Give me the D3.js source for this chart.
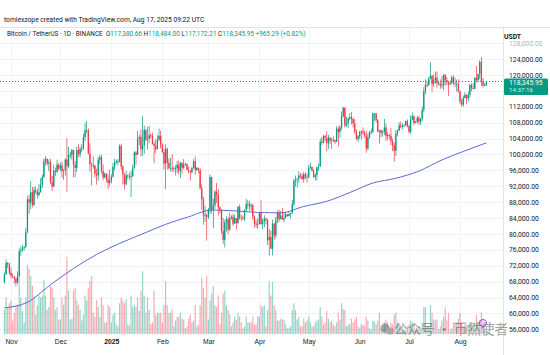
<!DOCTYPE html>
<html><head><meta charset="utf-8">
<script src="https://cdn.jsdelivr.net/npm/d3@7"></script>
<style>html,body{margin:0;padding:0;background:#fff;}svg{display:block;font-family:Roboto,"Noto Sans",sans-serif;}</style>
</head><body>
<script>
// Daily candles [open, high, low, close] in thousand USDT, volume in thousand BTC
const oct24 = [[67.9,70.3,67.5,69.9,25],[69.9,73.6,69.7,72.7,38],[72.7,72.9,71.4,72.3,28],[72.3,72.7,69.7,70.2,32]];
const nov24 = [[70.2,71.6,68.8,69.5,35],[69.5,70.0,69.0,69.3,14],[69.3,69.4,67.5,68.7,22],[68.7,69.0,66.8,67.8,30],[67.8,70.6,67.4,69.4,30],
[69.4,76.4,69.3,75.6,62],[75.6,76.9,74.5,75.9,38],[75.9,77.2,75.6,76.5,24],[76.5,76.9,75.8,76.7,12],[76.7,81.5,76.5,80.4,38],
[80.4,89.5,80.2,88.7,72],[88.7,89.9,85.1,87.9,68],[87.9,93.3,86.2,90.5,60],[90.5,91.8,86.7,87.3,50],[87.3,91.8,87.1,91.0,40],
[91.0,91.9,90.1,90.6,20],[90.6,91.4,88.8,89.8,30],[89.8,92.6,89.4,90.5,40],[90.5,94.0,90.4,92.3,38],[92.3,94.9,91.5,94.3,40],
[94.3,99.0,94.1,98.3,56],[98.3,99.6,97.2,98.9,40],[98.9,98.9,97.2,97.7,25],[97.7,98.7,95.8,98.0,28],[98.0,98.9,92.6,93.0,50],
[93.0,94.6,90.8,91.9,48],[91.9,97.4,91.8,95.9,38],[95.9,96.7,94.6,95.6,25],[95.6,98.7,95.4,97.4,28],[97.4,97.8,96.0,96.4,15]];
const dec24 = [[96.4,98.0,95.7,97.2,15],[97.2,98.2,94.2,95.8,38],[95.8,96.3,93.6,96.0,30],[96.0,99.0,94.7,98.7,40],[98.7,104.1,90.5,97.0,80],
[97.0,101.9,96.5,99.9,45],[99.9,100.6,99.0,99.9,15],[99.9,101.4,98.7,101.1,16],[101.1,101.2,94.2,97.4,45],[97.4,98.3,94.3,96.6,48],
[96.6,101.9,95.6,101.1,35],[101.1,102.5,99.3,100.0,30],[100.0,101.9,99.2,101.4,25],[101.4,102.6,100.6,101.4,14],[101.4,105.2,101.2,104.3,20],
[104.3,107.8,103.3,106.0,40],[106.0,108.4,105.3,106.1,35],[106.1,106.5,100.0,100.2,48],[100.2,102.8,95.7,97.5,55],[97.5,98.0,92.2,97.2,60],
[97.2,99.5,96.4,97.2,22],[97.2,97.4,94.2,95.1,18],[95.1,96.4,92.4,94.7,35],[94.7,99.4,93.4,98.7,28],[98.7,99.9,97.6,99.3,18],
[99.3,99.9,95.1,95.8,38],[95.8,97.5,93.5,94.2,30],[94.2,95.5,94.1,95.1,12],[95.1,95.3,93.0,93.7,12],[93.7,95.0,91.3,92.8,30],[92.8,96.2,92.0,93.4,28]];
const jan25 = [[93.4,95.0,92.7,94.4,12],[94.4,97.8,94.2,96.9,20],[96.9,98.9,96.0,98.1,22],[98.1,98.7,97.5,98.2,10],[98.2,98.8,97.3,98.3,8],
[98.3,102.5,97.9,102.2,32],[102.2,102.7,96.1,96.9,38],[96.9,97.3,92.5,95.0,35],[95.0,95.3,91.2,92.5,32],[92.5,95.8,92.2,94.7,36],
[94.7,95.0,93.8,94.5,10],[94.5,95.4,93.7,94.5,9],[94.5,95.9,89.3,94.5,40],[94.5,97.4,94.3,96.5,28],[96.5,100.7,96.5,100.5,30],
[100.5,100.9,97.4,99.9,28],[99.9,105.9,99.9,104.1,38],[104.1,104.9,102.3,104.4,24],[104.4,106.3,99.5,101.3,45],[101.3,109.6,99.6,102.3,65],
[102.3,107.2,100.1,106.1,40],[106.1,106.4,103.3,103.7,22],[103.7,106.9,101.2,103.9,38],[103.9,107.1,102.8,104.8,25],[104.8,105.3,104.1,104.7,10],
[104.7,105.5,102.5,102.6,12],[102.6,103.2,97.8,102.1,45],[102.1,103.8,100.3,101.3,20],[101.3,104.8,101.3,103.7,22],[103.7,106.5,103.3,104.7,22],[104.7,106.0,101.5,102.4,22]];
const feb25 = [[102.4,102.8,100.3,100.6,12],[100.6,101.5,96.2,97.7,30],[97.7,102.5,91.2,101.4,55],[101.4,101.7,96.2,97.9,30],[97.9,99.0,96.2,96.6,22],
[96.6,99.2,95.7,96.6,22],[96.6,100.1,95.6,96.5,25],[96.5,96.9,95.7,96.5,8],[96.5,97.3,94.7,96.5,14],[96.5,98.3,95.3,97.4,18],
[97.4,98.5,94.9,95.8,18],[95.8,98.1,94.1,97.9,22],[97.9,97.9,95.2,96.6,16],[96.6,98.8,96.3,97.5,15],[97.5,97.9,97.2,97.6,6],
[97.6,97.7,96.0,96.1,8],[96.1,97.0,95.2,95.8,16],[95.8,96.0,93.4,95.5,20],[95.5,96.9,95.2,96.6,12],[96.6,98.8,96.4,98.3,14],
[98.3,99.5,94.9,96.1,30],[96.1,96.9,95.8,96.6,8],[96.6,96.7,95.2,96.1,10],[96.1,96.5,91.2,91.5,30],[91.5,92.5,86.1,88.7,58],
[88.7,89.3,82.3,84.7,48],[84.7,87.1,83.0,84.7,38],[84.7,85.1,78.3,84.3,60]];
const mar25 = [[84.3,86.5,83.8,86.1,15],[86.1,95.0,85.0,94.3,35],[94.3,94.4,85.1,86.1,42],[86.1,88.9,81.4,87.2,50],[87.2,91.0,86.3,90.6,30],
[90.6,92.8,87.8,89.9,28],[89.9,91.3,84.7,86.7,40],[86.7,86.9,85.2,86.1,10],[86.1,86.1,80.0,80.7,22],[80.7,84.0,77.5,78.5,42],
[78.5,83.6,76.6,82.9,45],[82.9,84.4,80.6,83.7,30],[83.7,84.3,79.9,81.1,25],[81.1,85.3,80.8,84.0,20],[84.0,84.7,83.6,84.3,8],
[84.3,85.0,82.0,82.6,12],[82.6,84.8,82.5,84.0,18],[84.0,84.0,81.1,82.7,15],[82.7,87.0,82.6,86.8,22],[86.8,87.4,83.6,84.1,18],
[84.1,84.8,83.2,84.0,12],[84.0,84.5,83.6,83.8,6],[83.8,86.1,83.2,86.1,8],[86.1,88.8,85.5,87.5,18],[87.5,88.5,86.3,87.5,12],
[87.5,88.3,85.9,86.9,12],[86.9,87.8,85.8,87.2,12],[87.2,87.5,83.6,84.4,18],[84.4,84.6,81.6,82.6,10],[82.6,83.5,81.5,82.3,10],[82.3,83.9,81.3,82.5,18]];
const apr25 = [[82.5,85.5,82.4,85.2,18],[85.2,88.5,82.3,82.5,30],[82.5,83.9,81.2,83.1,28],[83.1,84.7,81.7,83.8,30],[83.8,84.2,82.4,83.5,8],
[83.5,83.8,77.2,78.4,25],[78.4,81.2,74.5,79.2,55],[79.2,80.8,76.2,76.3,40],[76.3,83.6,74.6,82.6,54],[82.6,82.7,78.5,79.6,30],
[79.6,84.3,78.9,83.4,25],[83.4,85.9,82.7,85.3,14],[85.3,86.1,83.0,83.7,14],[83.7,85.8,83.7,84.6,16],[84.6,86.5,83.6,83.6,15],
[83.6,85.5,83.0,84.0,15],[84.0,85.5,83.9,84.9,10],[84.9,85.1,84.3,84.5,6],[84.5,85.6,84.4,85.0,6],[85.0,85.3,83.9,85.2,8],
[85.2,88.5,85.1,87.5,25],[87.5,93.9,87.0,93.4,32],[93.4,94.7,91.9,93.7,25],[93.7,94.0,91.7,93.9,15],[93.9,95.8,92.9,94.7,18],
[94.7,95.3,93.9,94.6,8],[94.6,95.2,93.6,93.8,8],[93.8,95.6,92.9,95.0,16],[95.0,95.5,93.8,94.3,12],[94.3,95.2,92.9,94.2,14]];
const may25 = [[94.2,97.4,94.1,96.5,18],[96.5,97.9,96.4,96.9,12],[96.9,96.9,95.7,95.9,8],[95.9,96.3,94.1,94.3,8],[94.3,95.2,93.5,94.8,12],
[94.8,96.9,93.4,96.8,14],[96.8,97.7,95.8,97.0,15],[97.0,104.0,96.9,103.2,28],[103.2,104.3,102.3,102.9,18],[102.9,104.9,102.8,104.6,10],
[104.6,104.9,103.3,104.1,12],[104.1,105.8,100.7,102.8,24],[102.8,104.9,101.4,104.2,16],[104.2,104.4,102.6,103.5,12],[103.5,104.2,101.4,103.7,14],
[103.7,104.6,103.1,103.6,10],[103.6,103.7,102.6,103.2,8],[103.2,107.1,103.1,106.5,12],[106.5,107.1,102.0,105.6,22],[105.6,107.3,104.2,106.8,15],
[106.8,110.8,106.1,109.6,32],[109.6,112.0,109.3,111.7,26],[111.7,111.9,106.8,107.3,25],[107.3,109.5,106.9,107.8,8],[107.8,109.3,106.6,109.0,10],
[109.0,110.4,108.6,109.4,10],[109.4,110.7,107.5,108.9,16],[108.9,109.3,106.8,107.8,12],[107.8,108.9,105.3,105.6,15],[105.6,106.3,103.6,103.9,18],[103.9,104.9,103.1,104.6,8]];
const jun25 = [[104.6,105.9,103.9,105.7,6],[105.7,105.9,103.7,105.8,10],[105.8,106.8,105.0,105.4,10],[105.4,106.0,104.2,104.7,8],[104.7,105.9,100.4,101.5,18],
[101.5,105.3,101.1,104.3,14],[104.3,105.9,103.9,105.6,6],[105.6,106.5,105.1,105.7,5],[105.7,110.5,105.4,110.3,14],[110.3,110.4,108.4,110.3,13],
[110.3,110.4,108.0,108.6,10],[108.6,108.9,105.7,105.7,14],[105.7,106.2,102.7,106.1,22],[106.1,106.2,104.3,105.4,6],[105.4,106.1,104.5,105.6,5],
[105.6,108.9,104.9,106.8,12],[106.8,107.8,103.4,104.6,15],[104.6,105.6,103.6,104.9,12],[104.9,105.2,103.9,104.7,6],[104.7,106.6,102.3,103.3,12],
[103.3,104.0,100.8,102.2,10],[102.2,103.0,98.2,100.9,20],[100.9,106.1,99.6,105.3,22],[105.3,106.3,104.6,106.0,12],[106.0,108.1,105.9,107.3,10],
[107.3,108.3,106.6,106.9,9],[106.9,107.8,106.3,107.1,9],[107.1,107.6,106.9,107.3,4],[107.3,108.5,107.2,108.4,4],[108.4,108.8,106.8,107.1,8]];
const jul25 = [[107.1,107.5,105.3,105.7,10],[105.7,109.8,105.2,108.8,14],[108.8,110.5,108.6,109.6,12],[109.6,109.8,107.3,107.9,10],[107.9,108.4,107.8,108.2,4],
[108.2,109.7,107.8,109.2,5],[109.2,109.7,107.5,108.2,8],[108.2,109.2,107.4,108.9,6],[108.9,112.0,108.3,111.2,12],[111.2,116.9,110.6,115.9,28],
[115.9,118.9,115.2,117.5,28],[117.5,118.2,116.9,117.4,8],[117.4,119.5,117.3,119.1,8],[119.1,123.2,118.9,119.8,30],[119.8,119.9,115.7,117.7,22],
[117.7,120.1,117.0,118.7,15],[118.7,120.9,117.8,119.3,14],[119.3,120.8,116.8,117.9,15],[117.9,118.5,117.3,117.9,5],[117.9,118.9,116.5,117.3,8],
[117.3,119.7,116.6,117.4,14],[117.4,120.2,116.1,120.0,18],[120.0,120.2,117.3,118.7,28],[118.7,119.5,117.4,118.3,14],[118.3,118.5,114.7,117.6,22],
[117.6,118.3,117.4,117.9,5],[117.9,119.8,117.8,119.4,6],[119.4,119.9,117.4,118.0,12],[118.0,119.3,116.9,117.8,12],[117.8,118.8,115.8,117.8,12],[117.8,118.9,115.5,115.8,16]];
const aug25 = [[115.8,116.1,112.7,113.3,22],[113.3,114.0,112.0,112.5,12],[112.5,114.8,112.0,114.2,8],[114.2,115.7,114.1,115.0,10],[115.0,115.1,112.7,114.1,10],
[114.1,115.8,113.4,115.0,10],[115.0,117.7,114.3,117.5,12],[117.5,117.9,115.9,116.7,10],[116.7,117.9,116.3,116.5,6],[116.5,119.3,116.5,119.3,12],
[119.3,122.3,118.1,118.7,20],[118.7,120.3,118.2,120.2,12],[120.2,123.7,118.9,123.3,14],[123.3,124.5,117.2,118.3,22],[118.3,119.2,116.8,117.4,14],
[117.4,117.9,117.2,117.4,5],[117.38066,118.484,117.17221,118.34595,3]];

// 200-day moving average, read every 14 days from the first candle (thousand USDT)
const maValues = [61.4,62.8,67.2,71.3,74.8,77.6,80.0,82.4,84.3,86.0,85.8,85.4,85.3,86.9,88.2,90.4,92.8,94.0,95.8,98.6,100.9,102.9];
const maStep = 14;

const priceTicks = d3.range(56000, 128001, 4000);
const monthTicks = [[2024,10],[2024,11],[2025,0],[2025,1],[2025,2],[2025,3],[2025,4],[2025,5],[2025,6],[2025,7]];
const startDate = Date.UTC(2024,9,28);
const lastPrice = 118345.95;

const rows = [].concat(oct24,nov24,dec24,jan25,feb25,mar25,apr25,may25,jun25,jul25,aug25);
const dates = d3.utcDay.range(new Date(startDate), new Date(Date.UTC(2025,7,18)));
const data = rows.map((r,i)=>({date:dates[i],o:r[0]*1000,h:r[1]*1000,l:r[2]*1000,c:r[3]*1000,v:r[4]}));

const W=550,H=355, plotR=503, plotT=28, plotB=334;
const svg=d3.select("body").append("svg").attr("width",W).attr("height",H);
svg.append("rect").attr("width",W).attr("height",H).attr("fill","#fff");

const x=d3.scaleUtc().domain([new Date(Date.UTC(2024,10,1)),new Date(Date.UTC(2025,7,1))]).range([11,460]);
const y=d3.scaleLinear().domain([56000,124000]).range([329.3,59]);
const yv=d3.scaleLinear().domain([0,80]).range([plotB,257]);

const up="#089981", dn="#f23645";
// grid
const grid=svg.append("g");
grid.selectAll("line.h").data(priceTicks).join("line")
  .attr("x1",0).attr("x2",plotR).attr("y1",d=>Math.round(y(d))+0.5).attr("y2",d=>Math.round(y(d))+0.5)
  .attr("stroke","#f0f3fa").attr("stroke-width",1);
const monthDates=monthTicks.map(m=>new Date(Date.UTC(m[0],m[1],1)));
grid.selectAll("line.v").data(monthDates).join("line")
  .attr("x1",d=>Math.round(x(d))+0.5).attr("x2",d=>Math.round(x(d))+0.5).attr("y1",plotT).attr("y2",plotB)
  .attr("stroke","#f0f3fa").attr("stroke-width",1);

svg.append("clipPath").attr("id","pc").append("rect").attr("x",0).attr("y",plotT).attr("width",plotR).attr("height",plotB-plotT);
const plot=svg.append("g").attr("clip-path","url(#pc)");

// volume
plot.append("g").selectAll("rect").data(data).join("rect")
  .attr("x",d=>x(d.date)-0.6).attr("width",1.2)
  .attr("y",d=>yv(d.v)).attr("height",d=>plotB-yv(d.v))
  .attr("fill",d=>d.c>=d.o?"rgba(8,153,129,0.42)":"rgba(242,54,69,0.42)");

// MA line
const maPts=maValues.map((v,i)=>({date:dates[Math.min(i*maStep,dates.length-1)],v:v*1000}));
plot.append("path").datum(maPts)
  .attr("d",d3.line().x(d=>x(d.date)).y(d=>y(d.v)).curve(d3.curveMonotoneX))
  .attr("fill","none").attr("stroke","#5c6bd8").attr("stroke-width",1);

// price line
plot.append("line").attr("x1",0).attr("x2",plotR).attr("y1",y(lastPrice)).attr("y2",y(lastPrice))
  .attr("stroke",up).attr("stroke-width",1).attr("stroke-dasharray","1,2");

// candles
const cg=plot.append("g");
cg.selectAll("rect.w").data(data).join("rect")
  .attr("x",d=>x(d.date)-0.35).attr("width",0.7)
  .attr("y",d=>y(d.h)).attr("height",d=>Math.max(0.5,y(d.l)-y(d.h)))
  .attr("fill",d=>d.c>=d.o?up:dn);
cg.selectAll("rect.b").data(data).join("rect")
  .attr("x",d=>x(d.date)-0.65).attr("width",1.3)
  .attr("y",d=>y(Math.max(d.o,d.c))).attr("height",d=>Math.max(0.8,Math.abs(y(d.o)-y(d.c))))
  .attr("fill",d=>d.c>=d.o?up:dn);

// separators
svg.append("line").attr("x1",0).attr("x2",W).attr("y1",27.5).attr("y2",27.5).attr("stroke","#e0e3eb");
svg.append("line").attr("x1",plotR+0.5).attr("x2",plotR+0.5).attr("y1",27.5).attr("y2",H).attr("stroke","#e0e3eb");

// price axis (the label hidden under the last-price box is left out)
const boxTop=78.5, boxBot=95;
const visibleTicks=priceTicks.filter(t=>!(y(t)>=boxTop-1&&y(t)<=boxBot+1));
const ya=svg.append("g").attr("transform",`translate(${plotR},0)`)
  .call(d3.axisRight(y).tickValues(visibleTicks).tickSize(0).tickPadding(6).tickFormat(d3.format(",.2f")));
ya.select(".domain").remove();
ya.selectAll("text").attr("font-size",6.8).attr("fill","#131722").attr("font-family","Roboto,sans-serif")
  .attr("opacity",d=>d>124000?0.35:1);

// time axis
const xa=svg.append("g").attr("transform",`translate(0,${plotB})`)
  .call(d3.axisBottom(x).tickValues(monthDates).tickSize(0).tickPadding(5)
    .tickFormat(d=>d.getUTCMonth()===0?String(d.getUTCFullYear()):d3.utcFormat("%b")(d)));
xa.select(".domain").remove();
xa.selectAll("text").attr("font-size",6.8).attr("fill","#131722")
  .attr("font-weight",d=>d.getUTCMonth()===0?"bold":"normal");

// last price label
svg.append("rect").attr("x",plotR+1).attr("y",boxTop).attr("width",44).attr("height",boxBot-boxTop).attr("rx",1.5).attr("fill",up);
svg.append("text").attr("x",509).attr("y",85.2).attr("font-size",6.8).attr("fill","#fff").text(d3.format(",.2f")(lastPrice));
svg.append("text").attr("x",509).attr("y",92.3).attr("font-size",6.2).attr("fill","#d8f2ec").text("14:37:16");

// header
svg.append("text").attr("x",504).attr("y",39).attr("font-size",6.8).attr("font-weight","bold").attr("fill","#131722").text("USDT");
svg.append("text").attr("x",4).attr("y",22).attr("font-size",6.7).attr("fill","#131722")
  .text("tomlexzope created with TradingView.com, Aug 17, 2025 09:22 UTC");
const h2=svg.append("text").attr("x",7).attr("y",36).attr("font-size",6.4).attr("fill","#131722").attr("style","white-space:pre");
const parts=[["Bitcoin / TetherUS · 1D · BINANCE  ","#131722"],["O","#131722"],["117,380.66 ",up],["H","#131722"],["118,484.00 ",up],
 ["L","#131722"],["117,172.21 ",up],["C","#131722"],["118,345.95 ",up],["+965.29 (+0.82%)",up]];
parts.forEach(p=>h2.append("tspan").attr("fill",p[1]).text(p[0]));

// watermark
const wm=svg.append("g").attr("opacity",0.55);
wm.append("circle").attr("cx",385).attr("cy",328).attr("r",4.5).attr("fill","#666");
wm.append("circle").attr("cx",390).attr("cy",331).attr("r",3.8).attr("fill","#888");
wm.append("text").attr("x",394).attr("y",334).attr("font-size",13.5).attr("fill","#555")
  .attr("font-family","'Noto Sans CJK SC',sans-serif").text("公众号 · 币然使者");
svg.append("circle").attr("cx",483).attr("cy",323).attr("r",3.5).attr("fill","none").attr("stroke","#9b3fd0").attr("stroke-width",1);
</script>
</body></html>
